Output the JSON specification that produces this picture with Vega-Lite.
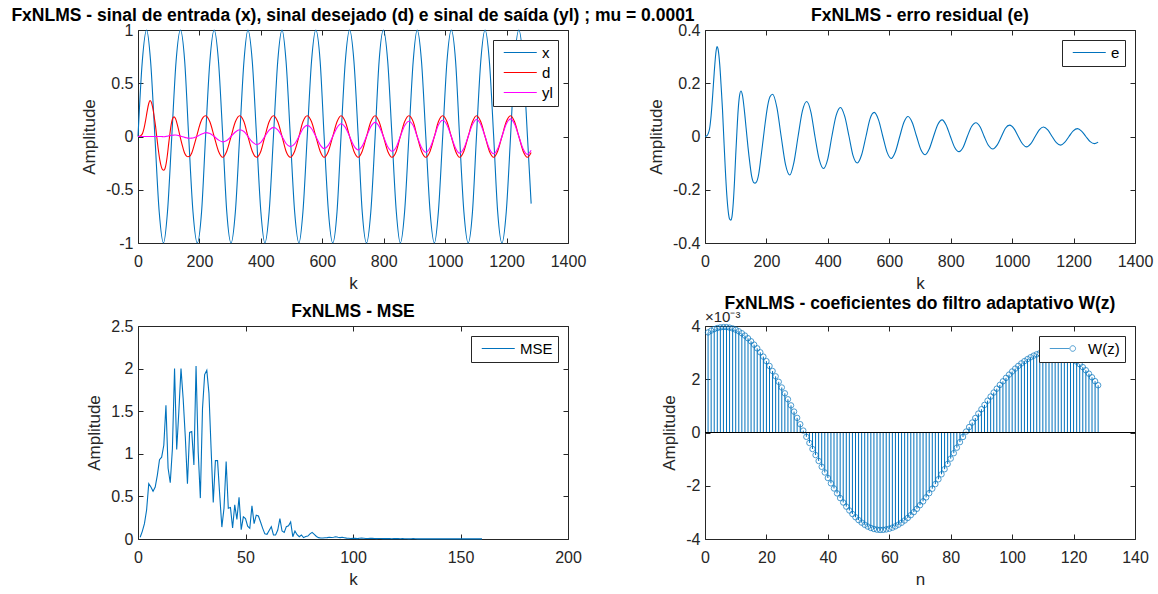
{
  "$schema": "https://vega.github.io/schema/vega-lite/v6.json",
  "background": "white",
  "padding": {"left": 10, "top": 6, "right": 0, "bottom": 0},
  "datasets": {
    "xs": [
      {"k":0,"v":0},{"k":14,"v":0.7071},{"k":28,"v":1},{"k":41,"v":0.7071},{"k":55,"v":0},{"k":69,"v":-0.7071},{"k":83,"v":-1},{"k":96,"v":-0.7071},
      {"k":110,"v":0},{"k":124,"v":0.7071},{"k":138,"v":1},{"k":152,"v":0.7071},{"k":165,"v":0},{"k":179,"v":-0.7071},{"k":193,"v":-1},{"k":207,"v":-0.7071},
      {"k":220,"v":0},{"k":234,"v":0.7071},{"k":248,"v":1},{"k":262,"v":0.7071},{"k":276,"v":0},{"k":289,"v":-0.7071},{"k":303,"v":-1},{"k":317,"v":-0.7071},
      {"k":331,"v":0},{"k":345,"v":0.7071},{"k":358,"v":1},{"k":372,"v":0.7071},{"k":386,"v":0},{"k":400,"v":-0.7071},{"k":413,"v":-1},{"k":427,"v":-0.7071},
      {"k":441,"v":0},{"k":455,"v":0.7071},{"k":469,"v":1},{"k":482,"v":0.7071},{"k":496,"v":0},{"k":510,"v":-0.7071},{"k":524,"v":-1},{"k":537,"v":-0.7071},
      {"k":551,"v":0},{"k":565,"v":0.7071},{"k":579,"v":1},{"k":593,"v":0.7071},{"k":606,"v":0},{"k":620,"v":-0.7071},{"k":634,"v":-1},{"k":648,"v":-0.7071},
      {"k":661,"v":0},{"k":675,"v":0.7071},{"k":689,"v":1},{"k":703,"v":0.7071},{"k":717,"v":0},{"k":730,"v":-0.7071},{"k":744,"v":-1},{"k":758,"v":-0.7071},
      {"k":772,"v":0},{"k":785,"v":0.7071},{"k":799,"v":1},{"k":813,"v":0.7071},{"k":827,"v":0},{"k":841,"v":-0.7071},{"k":854,"v":-1},{"k":868,"v":-0.7071},
      {"k":882,"v":0},{"k":896,"v":0.7071},{"k":909,"v":1},{"k":923,"v":0.7071},{"k":937,"v":0},{"k":951,"v":-0.7071},{"k":965,"v":-1},{"k":978,"v":-0.7071},
      {"k":992,"v":0},{"k":1006,"v":0.7071},{"k":1020,"v":1},{"k":1034,"v":0.7071},{"k":1047,"v":0},{"k":1061,"v":-0.7071},{"k":1075,"v":-1},{"k":1089,"v":-0.7071},
      {"k":1102,"v":0},{"k":1116,"v":0.7071},{"k":1130,"v":1},{"k":1144,"v":0.7071},{"k":1158,"v":0},{"k":1171,"v":-0.7071},{"k":1185,"v":-1},{"k":1199,"v":-0.7071},
      {"k":1213,"v":0},{"k":1226,"v":0.7071},{"k":1240,"v":1},{"k":1254,"v":0.7071},{"k":1268,"v":0},{"k":1280,"v":-0.63}
    ],
    "sig": [
      {"k":0,"d":0,"yl":0,"e":0},{"k":5,"d":0.002,"yl":0,"e":0.002},{"k":10,"d":0.01,"yl":0,"e":0.01},{"k":15,"d":0.03,"yl":0,"e":0.03},
      {"k":20,"d":0.08,"yl":0,"e":0.08},{"k":25,"d":0.155,"yl":0,"e":0.155},{"k":30,"d":0.24,"yl":0,"e":0.24},{"k":35,"d":0.31,"yl":0,"e":0.31},
      {"k":39,"d":0.3375,"yl":0,"e":0.3375},{"k":43,"d":0.325,"yl":0,"e":0.325},{"k":48,"d":0.27,"yl":0,"e":0.27},{"k":53,"d":0.18,"yl":0,"e":0.18},
      {"k":57,"d":0.1,"yl":0,"e":0.1},{"k":61,"d":0,"yl":0,"e":0},{"k":66,"d":-0.12,"yl":0,"e":-0.12},{"k":71,"d":-0.22,"yl":0,"e":-0.22},
      {"k":76,"d":-0.285,"yl":0,"e":-0.285},{"k":80,"d":-0.3115,"yl":-0.0015,"e":-0.31},{"k":84,"d":-0.317,"yl":-0.003,"e":-0.314},{"k":88,"d":-0.301,"yl":-0.001,"e":-0.3},
      {"k":92,"d":-0.249,"yl":0.001,"e":-0.25},{"k":96,"d":-0.167,"yl":0.003,"e":-0.17},{"k":100,"d":-0.064,"yl":0.006,"e":-0.07},{"k":104,"d":0.028,"yl":0.008,"e":0.02},
      {"k":108,"d":0.111,"yl":0.011,"e":0.1},{"k":112,"d":0.162,"yl":0.012,"e":0.15},{"k":117,"d":0.184,"yl":0.013,"e":0.171},{"k":122,"d":0.169,"yl":0.014,"e":0.155},
      {"k":128,"d":0.112,"yl":0.012,"e":0.1},{"k":134,"d":0.038,"yl":0.008,"e":0.03},{"k":140,"d":-0.037,"yl":0.003,"e":-0.04},{"k":146,"d":-0.103,"yl":-0.003,"e":-0.1},
      {"k":152,"d":-0.158,"yl":-0.008,"e":-0.15},{"k":158,"d":-0.184,"yl":-0.012,"e":-0.172},{"k":163,"d":-0.19,"yl":-0.015,"e":-0.175},{"k":168,"d":-0.186,"yl":-0.016,"e":-0.17},
      {"k":175,"d":-0.155,"yl":-0.015,"e":-0.14},{"k":182,"d":-0.091,"yl":-0.011,"e":-0.08},{"k":190,"d":-0.008,"yl":-0.003,"e":-0.005},{"k":197,"d":0.067,"yl":0.007,"e":0.06},
      {"k":204,"d":0.134,"yl":0.019,"e":0.115},{"k":212,"d":0.179,"yl":0.029,"e":0.15},
      {"k":220,"d":0.195,"yl":0.0361,"e":0.1589},{"k":234,"d":0.1379,"yl":0.0281,"e":0.1097},{"k":248,"d":0,"yl":0,"e":0},{"k":262,"d":-0.1379,"yl":-0.0332,"e":-0.1047},
      {"k":276,"d":-0.195,"yl":-0.0503,"e":-0.1447},{"k":289,"d":-0.1379,"yl":-0.038,"e":-0.0999},{"k":303,"d":0,"yl":0,"e":0},{"k":317,"d":0.1379,"yl":0.0425,"e":0.0954},
      {"k":331,"d":0.195,"yl":0.0633,"e":0.1317},{"k":345,"d":0.1379,"yl":0.0469,"e":0.091},{"k":358,"d":0,"yl":0,"e":0},{"k":372,"d":-0.1379,"yl":-0.0511,"e":-0.0868},
      {"k":386,"d":-0.195,"yl":-0.075,"e":-0.12},{"k":400,"d":-0.1379,"yl":-0.055,"e":-0.0829},{"k":413,"d":0,"yl":0,"e":0},{"k":427,"d":0.1379,"yl":0.0588,"e":0.0791},
      {"k":441,"d":0.195,"yl":0.0858,"e":0.1092},{"k":455,"d":0.1379,"yl":0.0624,"e":0.0754},{"k":469,"d":0,"yl":0,"e":0},{"k":482,"d":-0.1379,"yl":-0.0659,"e":-0.072},
      {"k":496,"d":-0.195,"yl":-0.0955,"e":-0.0995},{"k":510,"d":-0.1379,"yl":-0.0692,"e":-0.0687},{"k":524,"d":0,"yl":0,"e":0},{"k":537,"d":0.1379,"yl":0.0723,"e":0.0655},
      {"k":551,"d":0.195,"yl":0.1044,"e":0.0906},{"k":565,"d":0.1379,"yl":0.0753,"e":0.0626},{"k":579,"d":0,"yl":0,"e":0},{"k":593,"d":-0.1379,"yl":-0.0782,"e":-0.0597},
      {"k":606,"d":-0.195,"yl":-0.1125,"e":-0.0825},{"k":620,"d":-0.1379,"yl":-0.0809,"e":-0.057},{"k":634,"d":0,"yl":0,"e":0},{"k":648,"d":0.1379,"yl":0.0835,"e":0.0544},
      {"k":661,"d":0.195,"yl":0.1199,"e":0.0751},{"k":675,"d":0.1379,"yl":0.086,"e":0.0519},{"k":689,"d":0,"yl":0,"e":0},{"k":703,"d":-0.1379,"yl":-0.0884,"e":-0.0495},
      {"k":717,"d":-0.195,"yl":-0.1266,"e":-0.0684},{"k":730,"d":-0.1379,"yl":-0.0907,"e":-0.0472},{"k":744,"d":0,"yl":0,"e":0},{"k":758,"d":0.1379,"yl":0.0928,"e":0.0451},
      {"k":772,"d":0.195,"yl":0.1327,"e":0.0623},{"k":785,"d":0.1379,"yl":0.0949,"e":0.043},{"k":799,"d":0,"yl":0,"e":0},{"k":813,"d":-0.1379,"yl":-0.0968,"e":-0.0411},
      {"k":827,"d":-0.195,"yl":-0.1383,"e":-0.0567},{"k":841,"d":-0.1379,"yl":-0.0987,"e":-0.0392},{"k":854,"d":0,"yl":0,"e":0},{"k":868,"d":0.1379,"yl":0.1005,"e":0.0374},
      {"k":882,"d":0.195,"yl":0.1434,"e":0.0516},{"k":896,"d":0.1379,"yl":0.1022,"e":0.0356},{"k":909,"d":0,"yl":0,"e":0},{"k":923,"d":-0.1379,"yl":-0.1039,"e":-0.034},
      {"k":937,"d":-0.195,"yl":-0.148,"e":-0.047},{"k":951,"d":-0.1379,"yl":-0.1054,"e":-0.0325},{"k":965,"d":0,"yl":0,"e":0},{"k":978,"d":0.1379,"yl":0.1069,"e":0.031},
      {"k":992,"d":0.195,"yl":0.1522,"e":0.0428},{"k":1006,"d":0.1379,"yl":0.1083,"e":0.0296},{"k":1020,"d":0,"yl":0,"e":0},{"k":1034,"d":-0.1379,"yl":-0.1097,"e":-0.0282},
      {"k":1047,"d":-0.195,"yl":-0.156,"e":-0.039},{"k":1061,"d":-0.1379,"yl":-0.1109,"e":-0.0269},{"k":1075,"d":0,"yl":0,"e":0},{"k":1089,"d":0.1379,"yl":0.1121,"e":0.0257},
      {"k":1102,"d":0.195,"yl":0.1595,"e":0.0355},{"k":1116,"d":0.1379,"yl":0.1133,"e":0.0245},{"k":1130,"d":0,"yl":0,"e":0},{"k":1144,"d":-0.1379,"yl":-0.1145,"e":-0.0234},
      {"k":1158,"d":-0.195,"yl":-0.1626,"e":-0.0324},{"k":1171,"d":-0.1379,"yl":-0.1155,"e":-0.0223},{"k":1185,"d":0,"yl":0,"e":0},{"k":1199,"d":0.1379,"yl":0.1165,"e":0.0214},
      {"k":1213,"d":0.195,"yl":0.1655,"e":0.0295},{"k":1226,"d":0.1379,"yl":0.1175,"e":0.0204},{"k":1240,"d":0,"yl":0,"e":0},{"k":1254,"d":-0.1379,"yl":-0.1184,"e":-0.0194},
      {"k":1268,"d":-0.195,"yl":-0.1682,"e":-0.0268},{"k":1280,"d":-0.15,"yl":-0.129,"e":-0.021}
    ],
    "mse": [
      {"k":1,"v":0.02},{"k":2,"v":0.09},{"k":3,"v":0.18},{"k":4,"v":0.34},{"k":5,"v":0.65},{"k":6,"v":0.61},{"k":7,"v":0.56},{"k":8,"v":0.61},{"k":9,"v":0.75},{"k":10,"v":0.93},
      {"k":11,"v":0.96},{"k":12,"v":1.1},{"k":13,"v":1.57},{"k":14,"v":0.83},{"k":15,"v":0.66},{"k":16,"v":1.06},{"k":17,"v":2.0},{"k":18,"v":1.05},{"k":19,"v":1.5},{"k":20,"v":2.0},
      {"k":21,"v":1.65},{"k":22,"v":1.2},{"k":23,"v":0.65},{"k":24,"v":1.25},{"k":25,"v":1.26},{"k":26,"v":0.87},{"k":27,"v":2.03},{"k":28,"v":1.02},{"k":29,"v":0.48},{"k":30,"v":1.53},
      {"k":31,"v":1.93},{"k":32,"v":1.98},{"k":33,"v":1.71},{"k":34,"v":1.06},{"k":35,"v":0.43},{"k":36,"v":0.92},{"k":37,"v":0.92},{"k":38,"v":0.52},{"k":39,"v":0.14},{"k":40,"v":0.36},
      {"k":41,"v":0.91},{"k":42,"v":0.36},{"k":43,"v":0.37},{"k":44,"v":0.13},{"k":45,"v":0.4},{"k":46,"v":0.23},{"k":47,"v":0.49},{"k":48,"v":0.11},{"k":49,"v":0.26},{"k":50,"v":0.24},
      {"k":51,"v":0.15},{"k":52,"v":0.125},{"k":53,"v":0.39},{"k":54,"v":0.18},{"k":55,"v":0.28},{"k":56,"v":0.27},{"k":57,"v":0.2},{"k":58,"v":0.125},{"k":59,"v":0.06},{"k":60,"v":0.055},
      {"k":61,"v":0.1},{"k":62,"v":0.145},{"k":63,"v":0.047},{"k":64,"v":0.047},{"k":65,"v":0.105},{"k":66,"v":0.24},{"k":67,"v":0.094},{"k":68,"v":0.078},{"k":69,"v":0.145},{"k":70,"v":0.156},
      {"k":71,"v":0.2},{"k":72,"v":0.027},{"k":73,"v":0.094},{"k":74,"v":0.05},{"k":75,"v":0.027},{"k":76,"v":0.047},{"k":77,"v":0.016},{"k":78,"v":0.03},{"k":79,"v":0.035},{"k":80,"v":0.06},
      {"k":81,"v":0.078},{"k":82,"v":0.055},{"k":83,"v":0.03},{"k":84,"v":0.016},{"k":85,"v":0.012},{"k":86,"v":0.012},{"k":87,"v":0.014},{"k":88,"v":0.016},{"k":89,"v":0.02},{"k":90,"v":0.018},
      {"k":91,"v":0.02},{"k":92,"v":0.027},{"k":93,"v":0.02},{"k":94,"v":0.016},{"k":95,"v":0.02},{"k":96,"v":0.015},{"k":97,"v":0.01},{"k":98,"v":0.008},{"k":99,"v":0.006},{"k":100,"v":0.009},
      {"k":101,"v":0.007},{"k":102,"v":0.005},{"k":103,"v":0.008},{"k":104,"v":0.01},{"k":105,"v":0.008},{"k":106,"v":0.006},{"k":107,"v":0.005},{"k":108,"v":0.007},{"k":109,"v":0.008},{"k":110,"v":0.006},
      {"k":111,"v":0.004},{"k":112,"v":0.005},{"k":113,"v":0.006},{"k":114,"v":0.004},{"k":115,"v":0.004},{"k":116,"v":0.005},{"k":117,"v":0.004},{"k":118,"v":0.003},{"k":119,"v":0.004},{"k":120,"v":0.004},
      {"k":121,"v":0.004},{"k":122,"v":0.003},{"k":123,"v":0.004},{"k":124,"v":0.003},{"k":125,"v":0.003},{"k":126,"v":0.002},{"k":127,"v":0.003},{"k":128,"v":0.004},{"k":129,"v":0.003},{"k":130,"v":0.002},
      {"k":131,"v":0.002},{"k":132,"v":0.003},{"k":133,"v":0.002},{"k":134,"v":0.002},{"k":135,"v":0.003},{"k":136,"v":0.002},{"k":137,"v":0.002},{"k":138,"v":0.002},{"k":139,"v":0.003},{"k":140,"v":0.002},
      {"k":141,"v":0.002},{"k":142,"v":0.002},{"k":143,"v":0.002},{"k":144,"v":0.003},{"k":145,"v":0.002},{"k":146,"v":0.002},{"k":147,"v":0.002},{"k":148,"v":0.001},{"k":149,"v":0.002},{"k":150,"v":0.002},
      {"k":151,"v":0.002},{"k":152,"v":0.001},{"k":153,"v":0.002},{"k":154,"v":0.002},{"k":155,"v":0.001},{"k":156,"v":0.002},{"k":157,"v":0.001},{"k":158,"v":0.002},{"k":159,"v":0.001},{"k":160,"v":0.002}
    ],
    "w": [
      {"n":1,"w":3.759},{"n":2,"w":3.827},{"n":3,"w":3.882},{"n":4,"w":3.922},{"n":5,"w":3.948},{"n":6,"w":3.959},{"n":7,"w":3.956},{"n":8,"w":3.939},{"n":9,"w":3.907},{"n":10,"w":3.861},
      {"n":11,"w":3.801},{"n":12,"w":3.727},{"n":13,"w":3.64},{"n":14,"w":3.539},{"n":15,"w":3.425},{"n":16,"w":3.299},{"n":17,"w":3.161},{"n":18,"w":3.011},{"n":19,"w":2.85},{"n":20,"w":2.68},
      {"n":21,"w":2.499},{"n":22,"w":2.309},{"n":23,"w":2.11},{"n":24,"w":1.904},{"n":25,"w":1.691},{"n":26,"w":1.472},{"n":27,"w":1.247},{"n":28,"w":1.018},{"n":29,"w":0.785},{"n":30,"w":0.549},
      {"n":31,"w":0.311},{"n":32,"w":0.072},{"n":33,"w":-0.162},{"n":34,"w":-0.392},{"n":35,"w":-0.62},{"n":36,"w":-0.847},{"n":37,"w":-1.069},{"n":38,"w":-1.288},{"n":39,"w":-1.501},{"n":40,"w":-1.709},
      {"n":41,"w":-1.909},{"n":42,"w":-2.102},{"n":43,"w":-2.287},{"n":44,"w":-2.463},{"n":45,"w":-2.629},{"n":46,"w":-2.784},{"n":47,"w":-2.929},{"n":48,"w":-3.061},{"n":49,"w":-3.182},{"n":50,"w":-3.29},
      {"n":51,"w":-3.384},{"n":52,"w":-3.466},{"n":53,"w":-3.533},{"n":54,"w":-3.586},{"n":55,"w":-3.625},{"n":56,"w":-3.649},{"n":57,"w":-3.66},{"n":58,"w":-3.656},{"n":59,"w":-3.641},{"n":60,"w":-3.614},
      {"n":61,"w":-3.575},{"n":62,"w":-3.524},{"n":63,"w":-3.462},{"n":64,"w":-3.389},{"n":65,"w":-3.305},{"n":66,"w":-3.21},{"n":67,"w":-3.105},{"n":68,"w":-2.99},{"n":69,"w":-2.865},{"n":70,"w":-2.73},
      {"n":71,"w":-2.588},{"n":72,"w":-2.437},{"n":73,"w":-2.278},{"n":74,"w":-2.111},{"n":75,"w":-1.937},{"n":76,"w":-1.757},{"n":77,"w":-1.57},{"n":78,"w":-1.378},{"n":79,"w":-1.182},{"n":80,"w":-0.981},
      {"n":81,"w":-0.777},{"n":82,"w":-0.57},{"n":83,"w":-0.362},{"n":84,"w":-0.167},{"n":85,"w":0.034},{"n":86,"w":0.204},{"n":87,"w":0.374},{"n":88,"w":0.543},{"n":89,"w":0.71},{"n":90,"w":0.874},
      {"n":91,"w":1.036},{"n":92,"w":1.195},{"n":93,"w":1.35},{"n":94,"w":1.5},{"n":95,"w":1.646},{"n":96,"w":1.787},{"n":97,"w":1.922},{"n":98,"w":2.052},{"n":99,"w":2.175},{"n":100,"w":2.291},
      {"n":101,"w":2.4},{"n":102,"w":2.501},{"n":103,"w":2.595},{"n":104,"w":2.68},{"n":105,"w":2.757},{"n":106,"w":2.826},{"n":107,"w":2.886},{"n":108,"w":2.936},{"n":109,"w":2.978},{"n":110,"w":3.01},
      {"n":111,"w":3.033},{"n":112,"w":3.046},{"n":113,"w":3.05},{"n":114,"w":3.043},{"n":115,"w":3.024},{"n":116,"w":2.992},{"n":117,"w":2.949},{"n":118,"w":2.895},{"n":119,"w":2.829},{"n":120,"w":2.752},
      {"n":121,"w":2.663},{"n":122,"w":2.565},{"n":123,"w":2.456},{"n":124,"w":2.338},{"n":125,"w":2.21},{"n":126,"w":2.073},{"n":127,"w":1.928},{"n":128,"w":1.775}
    ]
  },
  "columns": 2,
  "bounds": "flush",
  "spacing": {"row": 83, "column": 137},
  "resolve": {"scale": {"color": "independent"}, "legend": {"color": "independent"}},
  "concat": [
    {
      "width": 430, "height": 213,
      "title": "FxNLMS - sinal de entrada (x), sinal desejado (d) e sinal de saída (yl) ; mu = 0.0001",
      "resolve": {"axis": {"x": "independent", "y": "independent"}},
      "layer": [
        {
          "data": {"name": "xs"},
          "mark": {"type": "line", "interpolate": "monotone", "strokeWidth": 1.1},
          "encoding": {
            "x": {"field": "k", "type": "quantitative", "scale": {"domain": [0, 1400], "nice": false, "zero": false}, "axis": {"values": [0,200,400,600,800,1000,1200,1400], "title": "k"}},
            "y": {"field": "v", "type": "quantitative", "scale": {"domain": [-1, 1], "nice": false, "zero": false}, "axis": {"values": [-1,-0.5,0,0.5,1], "title": "Amplitude"}},
            "color": {"datum": "x", "type": "nominal", "scale": {"domain": ["x","d","yl"], "range": ["#0072BD","#FF0000","#FF00FF"]},
              "legend": {"title": null, "encode": {"symbols": {"update": {"stroke": {"signal": "datum.value === 'x' ? '#0072BD' : (datum.value === 'd' ? '#FF0000' : '#FF00FF')"}}}}}}
          }
        },
        {
          "data": {"name": "sig"},
          "transform": [{"fold": ["d", "yl"], "as": ["s", "v"]}],
          "mark": {"type": "line", "interpolate": "monotone", "strokeWidth": 1.1},
          "encoding": {
            "x": {"field": "k", "type": "quantitative", "axis": null},
            "y": {"field": "v", "type": "quantitative", "axis": null},
            "color": {"field": "s", "type": "nominal", "legend": {"title": null, "encode": {"symbols": {"update": {"stroke": {"signal": "datum.value === 'x' ? '#0072BD' : (datum.value === 'd' ? '#FF0000' : '#FF00FF')"}}}}}}
          }
        },
        {
          "data": {"values": [{}]},
          "mark": {"type": "point", "opacity": 0},
          "encoding": {
            "x": {"datum": 0, "type": "quantitative", "axis": {"orient": "top", "labels": false, "title": null, "values": [0,200,400,600,800,1000,1200,1400]}},
            "y": {"datum": 0, "type": "quantitative", "axis": {"orient": "right", "labels": false, "title": null, "values": [-1,-0.5,0,0.5,1]}}
          }
        }
      ]
    },
    {
      "width": 430, "height": 213,
      "title": "FxNLMS - erro residual (e)",
      "resolve": {"axis": {"x": "independent", "y": "independent"}},
      "layer": [
        {
          "data": {"name": "sig"},
          "mark": {"type": "line", "interpolate": "monotone", "strokeWidth": 1.1},
          "encoding": {
            "x": {"field": "k", "type": "quantitative", "scale": {"domain": [0, 1400], "nice": false, "zero": false}, "axis": {"values": [0,200,400,600,800,1000,1200,1400], "title": "k"}},
            "y": {"field": "e", "type": "quantitative", "scale": {"domain": [-0.4, 0.4], "nice": false, "zero": false}, "axis": {"values": [-0.4,-0.2,0,0.2,0.4], "title": "Amplitude"}},
            "color": {"datum": "e", "type": "nominal", "scale": {"domain": ["e"], "range": ["#0072BD"]}, "legend": {"title": null, "symbolStrokeColor": "#0072BD"}}
          }
        },
        {
          "data": {"values": [{}]},
          "mark": {"type": "point", "opacity": 0},
          "encoding": {
            "x": {"datum": 0, "type": "quantitative", "axis": {"orient": "top", "labels": false, "title": null, "values": [0,200,400,600,800,1000,1200,1400]}},
            "y": {"datum": 0, "type": "quantitative", "axis": {"orient": "right", "labels": false, "title": null, "values": [-0.4,-0.2,0,0.2,0.4]}}
          }
        }
      ]
    },
    {
      "width": 430, "height": 213,
      "title": "FxNLMS - MSE",
      "resolve": {"axis": {"x": "independent", "y": "independent"}},
      "layer": [
        {
          "data": {"name": "mse"},
          "mark": {"type": "line", "strokeWidth": 1.1},
          "encoding": {
            "x": {"field": "k", "type": "quantitative", "scale": {"domain": [0, 200], "nice": false, "zero": false}, "axis": {"values": [0,50,100,150,200], "title": "k"}},
            "y": {"field": "v", "type": "quantitative", "scale": {"domain": [0, 2.5], "nice": false, "zero": false}, "axis": {"values": [0,0.5,1,1.5,2,2.5], "title": "Amplitude"}},
            "color": {"datum": "MSE", "type": "nominal", "scale": {"domain": ["MSE"], "range": ["#0072BD"]}, "legend": {"title": null, "symbolStrokeColor": "#0072BD"}}
          }
        },
        {
          "data": {"values": [{}]},
          "mark": {"type": "point", "opacity": 0},
          "encoding": {
            "x": {"datum": 0, "type": "quantitative", "axis": {"orient": "top", "labels": false, "title": null, "values": [0,50,100,150,200]}},
            "y": {"datum": 0, "type": "quantitative", "axis": {"orient": "right", "labels": false, "title": null, "values": [0,0.5,1,1.5,2,2.5]}}
          }
        }
      ]
    },
    {
      "width": 430, "height": 213,
      "title": "FxNLMS - coeficientes do filtro adaptativo W(z)",
      "resolve": {"axis": {"x": "independent", "y": "independent"}},
      "layer": [
        {
          "data": {"name": "w"},
          "mark": {"type": "rule", "strokeWidth": 1},
          "encoding": {
            "x": {"field": "n", "type": "quantitative", "scale": {"domain": [0, 140], "nice": false, "zero": false}, "axis": {"values": [0,20,40,60,80,100,120,140], "title": "n"}},
            "y": {"field": "w", "type": "quantitative", "scale": {"domain": [-4, 4], "nice": false, "zero": false}, "axis": {"values": [-4,-2,0,2,4], "title": "Amplitude"}},
            "y2": {"datum": 0},
            "color": {"datum": "W(z)", "type": "nominal", "scale": {"domain": ["W(z)"], "range": ["#0072BD"]}, "legend": {"title": null, "symbolStrokeColor": "#0072BD", "symbolType": "M-0.35,0H3.6M4.81,0A0.56,0.56,0,1,1,3.69,0A0.56,0.56,0,1,1,4.81,0"}}
          }
        },
        {
          "data": {"name": "w"},
          "mark": {"type": "point", "shape": "circle", "filled": false, "size": 30, "strokeWidth": 1},
          "encoding": {
            "x": {"field": "n", "type": "quantitative", "axis": null},
            "y": {"field": "w", "type": "quantitative", "axis": null},
            "color": {"datum": "W(z)", "type": "nominal"}
          }
        },
        {
          "data": {"values": [{}]},
          "mark": {"type": "rule", "color": "#000000", "strokeWidth": 1},
          "encoding": {"y": {"datum": 0, "type": "quantitative", "axis": null}}
        },
        {
          "data": {"values": [{}]},
          "mark": {"type": "point", "opacity": 0},
          "encoding": {
            "x": {"datum": 0, "type": "quantitative", "axis": {"orient": "top", "labels": false, "title": null, "values": [0,20,40,60,80,100,120,140]}},
            "y": {"datum": 0, "type": "quantitative", "axis": {"orient": "right", "labels": false, "title": null, "values": [-4,-2,0,2,4]}}
          }
        },
        {
          "data": {"values": [{}]},
          "mark": {"type": "text", "text": "×10⁻³", "align": "left", "baseline": "alphabetic", "dy": -4, "fontSize": 15, "color": "#262626"},
          "encoding": {"x": {"datum": 0, "type": "quantitative", "axis": null}, "y": {"datum": 4, "type": "quantitative", "axis": null}}
        }
      ]
    }
  ],
  "config": {
    "font": "Liberation Sans",
    "view": {"stroke": "#262626", "strokeWidth": 1},
    "axis": {
      "domain": false, "grid": false, "ticks": true, "tickSize": -5, "tickColor": "#262626", "tickWidth": 1,
      "labelFontSize": 16, "labelColor": "#262626", "labelFont": "Liberation Sans",
      "titleFontSize": 17, "titleFontWeight": "normal", "titleColor": "#262626", "titleFont": "Liberation Sans",
      "labelFlush": false, "labelOverlap": false, "format": "~r",
      "labelExpr": "replace(datum.label, '−', '-')"
    },
    "axisX": {"labelPadding": 15, "titlePadding": 6},
    "axisY": {"labelPadding": 10, "titlePadding": 7},
    "title": {"fontSize": 17.5, "fontWeight": "bold", "color": "#000000", "frame": "group", "anchor": "middle", "baseline": "alphabetic", "offset": -2, "font": "Liberation Sans"},
    "legend": {
      "orient": "top-right", "offset": 10, "strokeColor": "#262626", "fillColor": "#ffffff", "padding": 5,
      "labelFontSize": 15, "labelColor": "#000000", "labelFont": "Liberation Sans",
      "symbolType": "M-0.35,0H6.25", "symbolSize": 100, "symbolStrokeWidth": 1, "symbolFillColor": "transparent",
      "rowPadding": 4, "labelOffset": 29
    }
  }
}
